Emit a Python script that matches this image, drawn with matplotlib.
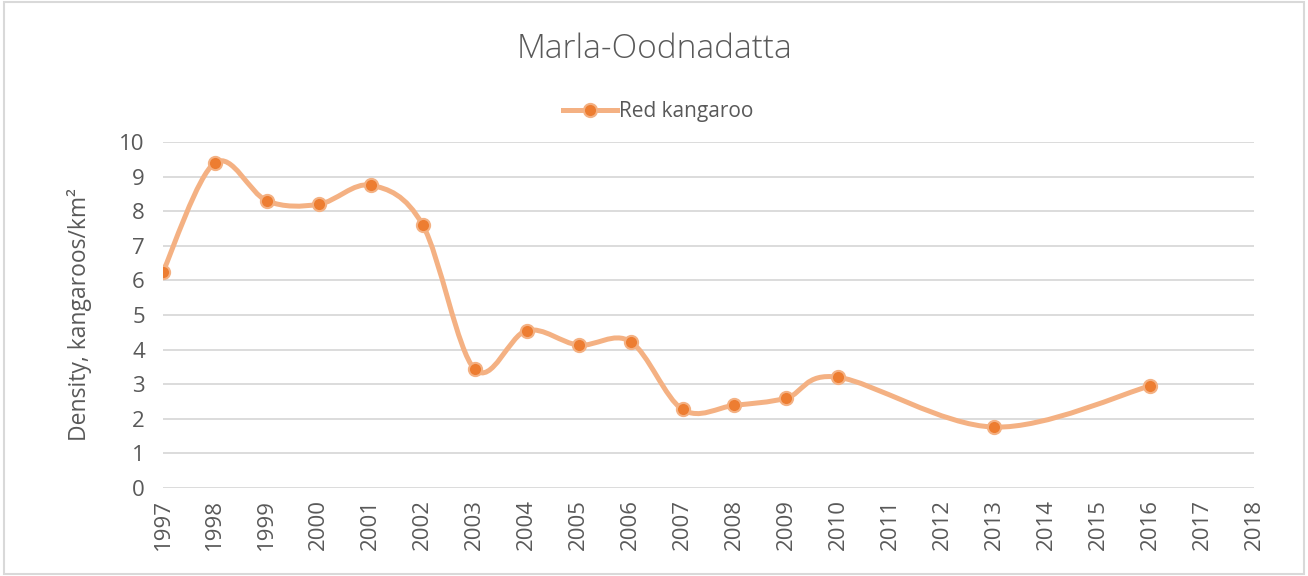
import matplotlib
matplotlib.use("Agg")
import matplotlib.pyplot as plt
from matplotlib.path import Path
from matplotlib.patches import PathPatch, Rectangle
from matplotlib.lines import Line2D
import numpy as np

# survey years and red kangaroo density (kangaroos/km2)
years = [1997, 1998, 1999, 2000, 2001, 2002, 2003, 2004, 2005, 2006,
         2007, 2008, 2009, 2010, 2013, 2016]
density = [6.25, 9.4, 8.3, 8.2, 8.75, 7.6, 3.43, 4.55, 4.13, 4.23,
           2.27, 2.39, 2.6, 3.2, 1.76, 2.95]
xticks = list(range(1997, 2019))
yticks = list(range(0, 11))

line_col = "#F4B183"
dot_col = "#ED7D31"
text_col = "#595959"
grid_col = "#D9D9D9"

plt.rcParams['font.family'] = ['Open Sans', 'DejaVu Sans']

fig = plt.figure(figsize=(13.08, 5.76), dpi=100)
ax = fig.add_axes([0.1246, 0.1528, 0.8341, 0.6007])

# excel style smoothed line: cubic bezier segments (catmull-rom tangents)
x = np.array(years, dtype=float)
y = np.array(density, dtype=float)
verts = [(x[0], y[0])]
codes = [Path.MOVETO]
n = len(x)
for i in range(n - 1):
    i0 = max(i - 1, 0)
    i3 = min(i + 2, n - 1)
    c1 = (x[i] + (x[i + 1] - x[i0]) / 6, y[i] + (y[i + 1] - y[i0]) / 6)
    c2 = (x[i + 1] - (x[i3] - x[i]) / 6, y[i + 1] - (y[i3] - y[i]) / 6)
    verts += [c1, c2, (x[i + 1], y[i + 1])]
    codes += [Path.CURVE4] * 3
ax.add_patch(PathPatch(Path(verts, codes), facecolor="none", edgecolor=line_col,
                       lw=3.6, capstyle="round", joinstyle="round", zorder=3))
ax.plot(years, density, ls="none", marker="o", ms=9.5, mfc=dot_col,
        mec=line_col, mew=1.5, zorder=4)

ax.set_xlim(1997, 2018)
ax.set_ylim(0, 10)
ax.set_xticks(xticks)
ax.set_xticklabels([str(t) for t in xticks], rotation=90)
ax.set_yticks(yticks)
ax.tick_params(length=0, labelsize=16, labelcolor=text_col, pad=8)
ax.tick_params(axis="y", pad=13)
ax.grid(axis="y", color=grid_col, lw=1.3)
ax.set_axisbelow(True)
for s in ax.spines.values():
    s.set_visible(False)

ax.set_ylabel("Density, kangaroos/km²", fontsize=16.5, color=text_col, labelpad=20)

fig.text(0.5, 0.915, "Marla-Oodnadatta", ha="center", va="center",
         fontsize=24, color=text_col, fontweight="light")

handle = Line2D([], [], color=line_col, lw=3.6, marker="o", ms=9.5,
                mfc=dot_col, mec=line_col, mew=1.5)
fig.legend([handle], ["Red kangaroo"], loc="center", bbox_to_anchor=(0.503, 0.806),
           frameon=False, fontsize=15, labelcolor=text_col, handlelength=2.6,
           handletextpad=0.1)

fig.patches.append(Rectangle((0.003, 0.004), 0.994, 0.992, transform=fig.transFigure,
                             fill=False, edgecolor=grid_col, lw=1.5))

fig.savefig("out.png", dpi=100)
